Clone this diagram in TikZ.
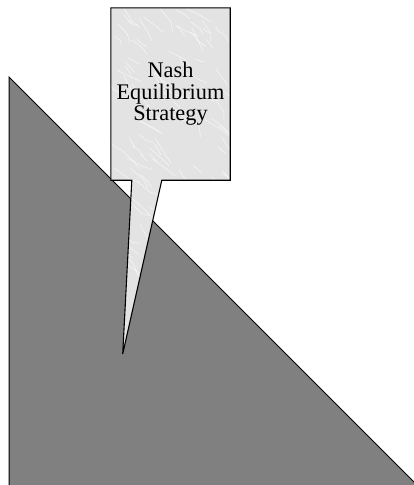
\documentclass[tikz,border=0pt]{standalone}
\usepackage{fontspec}
\setmainfont{Liberation Serif}
\usetikzlibrary{calc,positioning,backgrounds}

\begin{document}
\begin{tikzpicture}[x=1pt,y=-1pt,
  slope/.style={fill=black!50},
  slopeedge/.style={draw=black,line width=1pt},
  callfill/.style={fill=black!11},
  callline/.style={draw=black,line width=1.1pt,line join=miter},
  streak/.style={white,line width=0.5pt,opacity=0.75,line cap=round},
  label/.style={align=center,inner sep=0pt,minimum width=119pt,minimum height=172pt,
    font=\fontsize{22.3}{21.6}\selectfont}]
\useasboundingbox (0,0) rectangle (414,485);
\node[label] (nash) at (170.5,94) {Nash\\Equilibrium\\Strategy};
\coordinate (tip) at (122.7,354);
\coordinate (pl) at ([xshift=21pt]nash.south west);
\coordinate (pr) at ([xshift=51pt]nash.south west);
\begin{scope}[on background layer]
\fill[white] (0,0) rectangle (414,485);
% the slope
\fill[slope] (9,77) -- (9,495) -- (427,495) -- cycle;
\draw[slopeedge] (9,495) -- (9,77) -- (427,495);
% callout with its pointer, marbled
\fill[callfill] (nash.north west) -- (nash.north east) -- (nash.south east)
  -- (pr) -- (tip) -- (pl) -- (nash.south west) -- cycle;
\begin{scope}
\clip (nash.north west) -- (nash.north east) -- (nash.south east)
  -- (pr) -- (tip) -- (pl) -- (nash.south west) -- cycle;
\pgfmathsetseed{42}
\foreach \k in {1,...,140}{
  \pgfmathsetmacro\sx{105+rnd*130}
  \pgfmathsetmacro\sy{2+rnd*355}
  \pgfmathsetmacro\sa{25+rnd*40}
  \pgfmathsetmacro\sl{5+rnd*14}
  \draw[streak] (\sx,\sy) -- ++(\sa:\sl) -- ++(\sa+70*rnd-35:\sl*0.6);
}
\end{scope}
\draw[callline] (nash.north west) -- (nash.north east) -- (nash.south east)
  -- (pr) -- (tip) -- (pl) -- (nash.south west) -- cycle;
\end{scope}
\end{tikzpicture}
\end{document}
